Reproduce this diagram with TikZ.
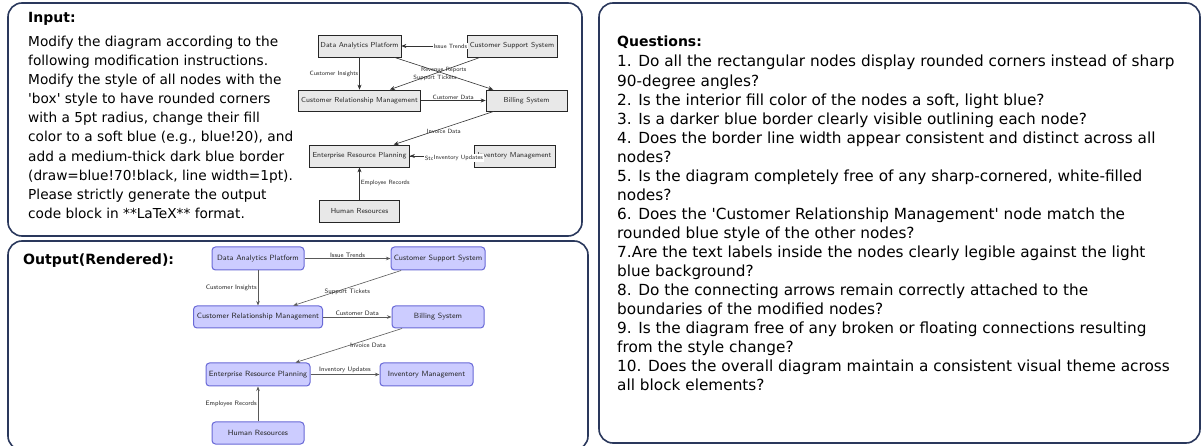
\documentclass[tikz,border=0pt]{standalone}
\usepackage{fontspec}
\newfontfamily\handfont{DejaVu Sans}[Ligatures=TeXOff]
\usetikzlibrary{arrows.meta}

\definecolor{panelrule}{RGB}{42,56,92}
\definecolor{oldfill}{RGB}{232,232,232}
\definecolor{newfill}{RGB}{204,204,255}
\definecolor{newrule}{RGB}{105,105,215}

\tikzset{
  panel/.style={draw=panelrule, line width=1.6pt, rounded corners=14pt, fill=white},
  prose/.style={anchor=base west, inner sep=0pt, font=\handfont\fontsize{13.7}{16}\selectfont},
  qprose/.style={anchor=base west, inner sep=0pt, font=\handfont\fontsize{15.3}{18}\selectfont},
  heading/.style={anchor=base west, inner sep=0pt, font=\handfont\bfseries\fontsize{14}{16}\selectfont},
  oldbox/.style={draw=black!85, fill=oldfill, line width=0.7pt, inner sep=2pt,
    font=\sffamily\fontsize{7.25}{8}\selectfont, text=black!85},
  newbox/.style={draw=newrule, fill=newfill, line width=1pt, rounded corners=3.5pt, inner sep=2pt,
    font=\sffamily\fontsize{7.6}{8}\selectfont, text=black!85},
  oldarrow/.style={-{Stealth[length=5pt,width=4pt]}, line width=0.6pt, draw=black!80},
  newarrow/.style={-{Stealth[length=4.5pt,width=3.5pt]}, line width=0.6pt, draw=black!65},
  oldlbl/.style={font=\sffamily\fontsize{6.1}{7}\selectfont, text=black!85, inner sep=1pt},
  newlbl/.style={font=\sffamily\fontsize{6.4}{7}\selectfont, text=black!85, inner sep=1pt},
}

\begin{document}
\begin{tikzpicture}[x=1pt,y=-1pt]
\useasboundingbox (0,0) rectangle (1203,446);
\fill[white] (0,0) rectangle (1203,446);

% three framed panels
\draw[panel] (8,3) rectangle (582,236);
\draw[panel] (8,241) rectangle (588,450);
\draw[panel] (599,3) rectangle (1200,443);

% instruction text
\node[heading] (intitle) at (28,23) {Input:};
\foreach \txt [count=\i from 0] in {
  {Modify the diagram according to the},
  {following modification instructions.},
  {Modify the style of all nodes with the},
  {'box' style to have rounded corners},
  {with a 5pt radius, change their fill},
  {color to a soft blue (e.g., blue!20), and},
  {add a medium-thick dark blue border},
  {(draw=blue!70!black, line width=1pt).},
  {Please strictly generate the output},
  {code block in **LaTeX** format.}}
  \node[prose] (inline\i) at (28,{46.5+19.1*\i}) {\txt};

% original diagram: sharp grey boxes
\node[oldbox, minimum width=83, minimum height=22] (a1) at (359.5,46) {Data Analytics Platform};
\node[oldbox, minimum width=122, minimum height=21] (a2) at (359.5,100.5) {Customer Relationship Management};
\node[oldbox, minimum width=100, minimum height=22] (a3) at (359.5,156) {Enterprise Resource Planning};
\node[oldbox, minimum width=81, minimum height=21] (a4) at (526.5,100.5) {Billing System};
\node[oldbox, minimum width=90, minimum height=22] (a5) at (512,46) {Customer Support System};
\node[oldbox, minimum width=81, minimum height=22] (a6) at (514.5,156) {Inventory Management};
\node[oldbox, minimum width=80, minimum height=22] (a7) at (359.5,211) {Human Resources};

\draw[oldarrow] (a5) -- (a1) node[oldlbl, pos=0.25, fill=white] {Issue Trends};
\draw[oldarrow] (a1) -- (a2) node[oldlbl, midway, left] {Customer Insights};
\draw[oldarrow] (a1) -- (a4) node[oldlbl, midway, above] {Revenue Reports};
\draw[oldarrow] (a5) -- (a2) node[oldlbl, midway, below] {Support Tickets};
\draw[oldarrow] (a2) -- (a4) node[oldlbl, midway, above] {Customer Data};
\draw[oldarrow] (a4) -- (a3) node[oldlbl, midway, below] {Invoice Data};
\draw[oldarrow] (a3) -- (a6);
\draw[oldarrow] (a6) -- (a3) node[oldlbl, pos=0.5, fill=white, yshift=-2pt] {Stock Levels};
\path (a3) -- (a6) node[oldlbl, pos=0.76, fill=white, yshift=-2pt] {Inventory Updates};
\draw[oldarrow] (a7) -- (a3) node[oldlbl, midway, right] {Employee Records};

% rendered result
\node[heading, font=\handfont\bfseries\fontsize{14.1}{16}\selectfont] (outtitle) at (23,265) {Output(Rendered):};

\node[newbox, minimum width=92, minimum height=23] (b1) at (258,258.5) {Data Analytics Platform};
\node[newbox, minimum width=129, minimum height=22] (b2) at (258,317) {Customer Relationship Management};
\node[newbox, minimum width=104, minimum height=23] (b3) at (258,374.5) {Enterprise Resource Planning};
\node[newbox, minimum width=92, minimum height=22] (b4) at (438,317) {Billing System};
\node[newbox, minimum width=94, minimum height=23] (b5) at (438,258.5) {Customer Support System};
\node[newbox, minimum width=93, minimum height=23] (b6) at (426.5,374.5) {Inventory Management};
\node[newbox, minimum width=92, minimum height=22] (b7) at (258,433) {Human Resources};

\draw[newarrow] (b1) -- (b5) node[newlbl, midway, above] {Issue Trends};
\draw[newarrow] (b1) -- (b2) node[newlbl, midway, left] {Customer Insights};
\draw[newarrow] (b5) -- (b2) node[newlbl, midway, below] {Support Tickets};
\draw[newarrow] (b2) -- (b4) node[newlbl, midway, above] {Customer Data};
\draw[newarrow] (b4) -- (b3) node[newlbl, midway, right] {Invoice Data};
\draw[newarrow] (b3) -- (b6) node[newlbl, midway, above] {Inventory Updates};
\draw[newarrow] (b7) -- (b3) node[newlbl, midway, left] {Employee Records};

% evaluation questions
\node[heading] (qtitle) at (617,47) {Questions:};
\foreach \txt [count=\i from 0] in {
  {1. Do all the rectangular nodes display rounded corners instead of sharp},
  {90-degree angles?},
  {2. Is the interior fill color of the nodes a soft, light blue?},
  {3. Is a darker blue border clearly visible outlining each node?},
  {4. Does the border line width appear consistent and distinct across all},
  {nodes?},
  {5. Is the diagram completely free of any sharp-cornered, white-filled},
  {nodes?},
  {6. Does the 'Customer Relationship Management' node match the},
  {rounded blue style of the other nodes?},
  {7.Are the text labels inside the nodes clearly legible against the light},
  {blue background?},
  {8. Do the connecting arrows remain correctly attached to the},
  {boundaries of the modified nodes?},
  {9. Is the diagram free of any broken or floating connections resulting},
  {from the style change?},
  {10. Does the overall diagram maintain a consistent visual theme across},
  {all block elements?}}
  \node[qprose] (qline\i) at (617,{67+19.05*\i}) {\txt};
\end{tikzpicture}
\end{document}
